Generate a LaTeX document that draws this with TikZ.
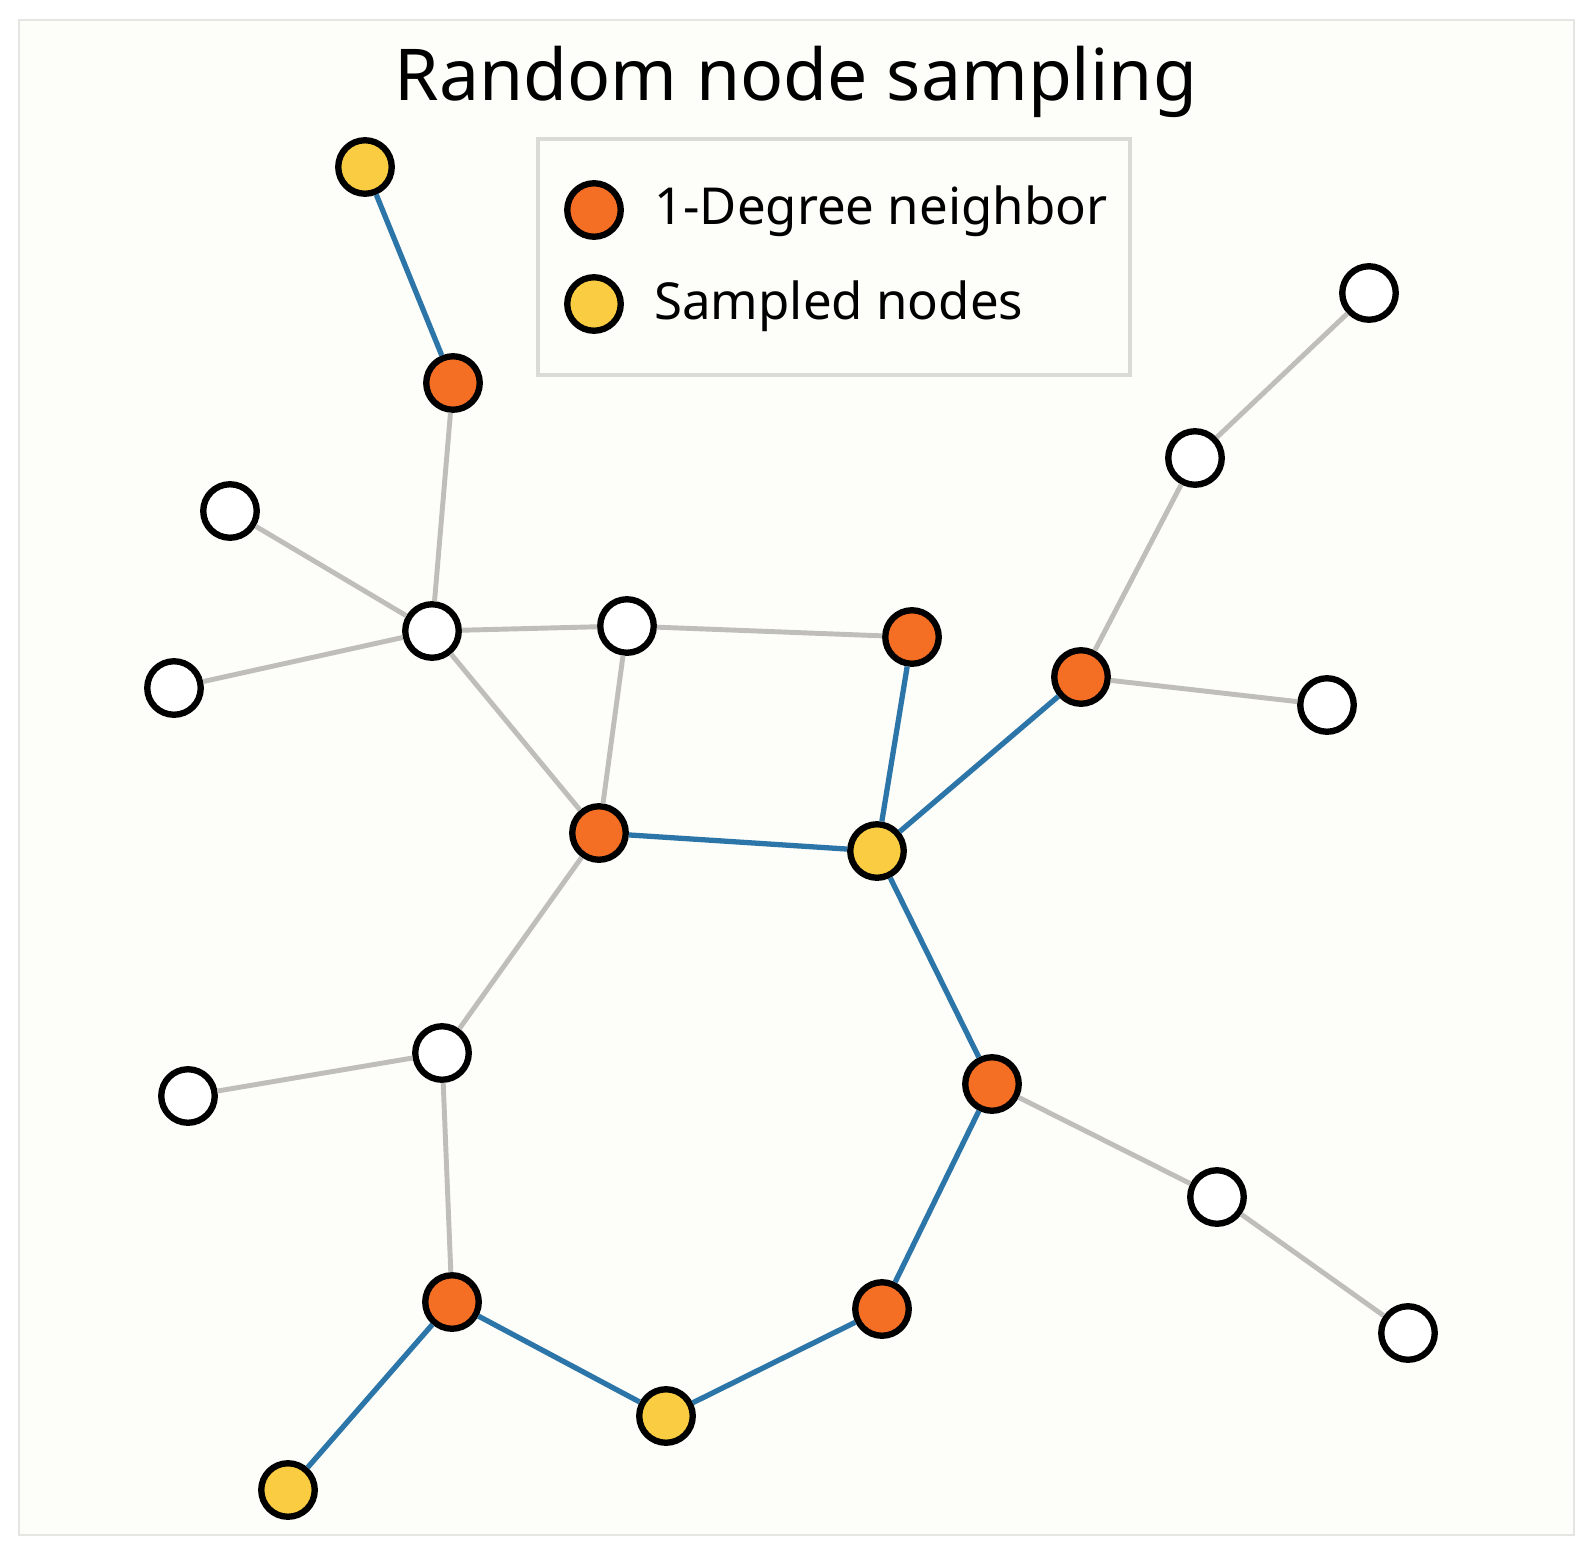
\documentclass[tikz,border=0pt]{standalone}
\usepackage{fontspec}
\setmainfont{Noto Sans}
\definecolor{nbrorange}{RGB}{244,110,36}
\definecolor{smpyellow}{RGB}{250,204,66}
\definecolor{hopblue}{RGB}{44,117,168}
\definecolor{linkgray}{RGB}{192,190,186}
\definecolor{boxgray}{RGB}{218,218,214}
\definecolor{bgcream}{RGB}{253,253,249}

\begin{document}
\begin{tikzpicture}[x=0.02cm,y=-0.02cm,
    vert/.style={circle,draw=black,line width=3.6pt,minimum size=1.07cm,inner sep=0pt},
    plain/.style={vert,fill=white},
    nbr/.style={vert,fill=nbrorange},
    smp/.style={vert,fill=smpyellow},
    link/.style={line width=2.8pt,linkgray},
    hop/.style={line width=3pt,hopblue},
    keytext/.style={anchor=base west,inner sep=0pt,font=\fontsize{29}{34}\selectfont}]
    % Page and frame
    \fill[white] (0,0) rectangle (1588,1554);
    \draw[boxgray!70,fill=bgcream,line width=1pt] (19,20) rectangle (1574,1535);

    \node[anchor=base,inner sep=0pt,font=\fontsize{40.7}{46}\selectfont] (title) at (796,101) {Random node sampling};

    % Legend
    \draw[boxgray,line width=2.3pt] (538,139) rectangle (1130,375);
    \node[nbr] (keynbr) at (594,210) {};
    \node[smp] (keysmp) at (594,304) {};
    \node[keytext] (txtnbr) at (654,225) {1-Degree neighbor};
    \node[keytext] (txtsmp) at (654,319) {Sampled nodes};

    % Vertices
    \foreach \n/\x/\y/\s in {
    y1/365/167/smp, o1/453/383/nbr, w1/230/511/plain, w2/432/631/plain,
    w3/174/688/plain, w4/627/626/plain, o2/912/637/nbr, o3/1081/677/nbr,
    w5/1195/458/plain, w6/1369/293/plain, w7/1327/705/plain, o4/599/833/nbr,
    y2/877/851/smp, w8/442/1053/plain, w9/188/1096/plain, o5/992/1084/nbr,
    w10/1217/1197/plain, w11/1408/1333/plain, o6/452/1302/nbr,
    o7/882/1309/nbr, y3/666/1416/smp, y4/288/1490/smp} {
        \node[\s] (\n) at (\x,\y) {};
    }

    % Edges not sampled
    \foreach \a/\b in {o1/w2, w1/w2, w3/w2, w2/w4, w2/o4, w4/o4, w4/o2,
    o3/w5, w5/w6, o3/w7, o4/w8, w8/w9, w8/o6, o5/w10, w10/w11} {
        \draw[link] (\a) -- (\b);
    }

    % Edges to 1-degree neighbors
    \foreach \a/\b in {y1/o1, o2/y2, y2/o3, o4/y2, y2/o5, o5/o7, o7/y3, y3/o6, o6/y4} {
        \draw[hop] (\a) -- (\b);
    }
\end{tikzpicture}
\end{document}
